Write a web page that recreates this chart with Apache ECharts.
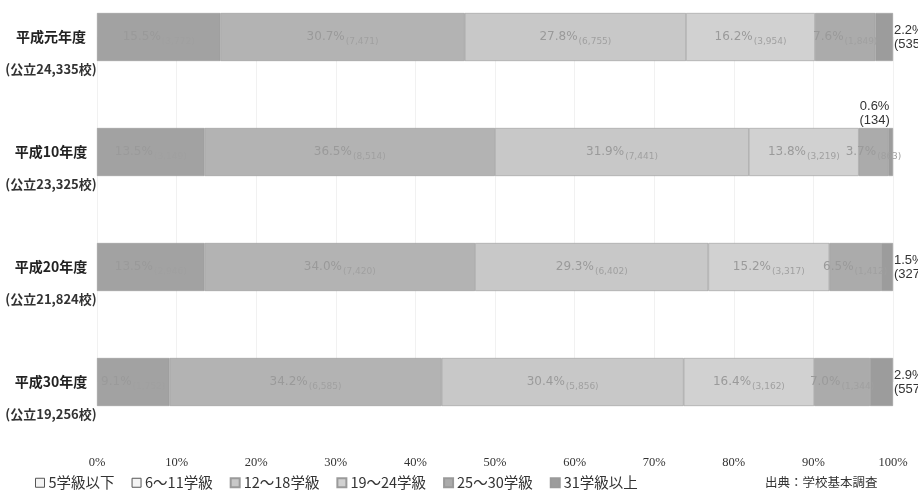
<!DOCTYPE html>
<html><head><meta charset="utf-8">
<script src="https://cdn.jsdelivr.net/npm/echarts@6/dist/echarts.min.js"></script>
<style>html,body{margin:0;padding:0;background:#fff}#c{width:918px;height:498px}</style>
</head><body><div id="c"></div>
<script>
const years = ['平成元年度', '平成10年度', '平成20年度', '平成30年度'];
const schools = ['24,335', '23,325', '21,824', '19,256'];
const legendNames = ['5学級以下', '6～11学級', '12～18学級', '19～24学級', '25～30学級', '31学級以上'];
// percentages per size class, rows = years
const pct5 = [15.5, 13.5, 13.5, 9.1];
const pct6_11 = [30.7, 36.5, 34.0, 34.2];
const pct12_18 = [27.8, 31.9, 29.3, 30.4];
const pct19_24 = [16.2, 13.8, 15.2, 16.4];
const pct25_30 = [7.6, 3.7, 6.5, 7.0];
const pct31 = [2.2, 0.6, 1.5, 2.9];
// school counts
const cnt5 = ['3,772', '3,149', '2,946', '1,752'];
const cnt6_11 = ['7,471', '8,514', '7,420', '6,585'];
const cnt12_18 = ['6,755', '7,441', '6,402', '5,856'];
const cnt19_24 = ['3,954', '3,219', '3,317', '3,162'];
const cnt25_30 = ['1,849', '863', '1,412', '1,344'];
const cnt31 = ['535', '134', '327', '557'];
const xTicks = ['0%', '10%', '20%', '30%', '40%', '50%', '60%', '70%', '80%', '90%', '100%'];

const pcts = [pct5, pct6_11, pct12_18, pct19_24, pct25_30, pct31];
const cnts = [cnt5, cnt6_11, cnt12_18, cnt19_24, cnt25_30, cnt31];
const colors = ['#a2a2a2', '#b3b3b3', '#c8c8c8', '#d1d1d1', '#ababab', '#9c9c9c'];

const chart = echarts.init(document.getElementById('c'));
const series = pcts.map((arr, si) => ({
  name: legendNames[si],
  type: 'bar',
  stack: 'all',
  barWidth: 48,
  itemStyle: { color: colors[si], borderColor: '#9a9a9a', borderWidth: 0.6 },
  data: arr.map((v, i) => {
    const d = { value: v };
    if (si === 5) {
      d.label = {
        show: true,
        position: i === 1 ? 'top' : 'right',
        offset: i === 1 ? [-16, 2] : [-2, 0],
        distance: 3,
        color: '#333',
        fontSize: 13,
        lineHeight: 14,
        align: i === 1 ? 'center' : 'left',
        formatter: () => v.toFixed(1) + '%\n(' + cnts[si][i] + ')'
      };
    }
    return d;
  }),
  label: si === 5 ? {} : {
    show: true,
    position: 'inside',
    formatter: p => '{p|' + p.value.toFixed(1) + '%}{c|(' + cnts[si][p.dataIndex] + ')}',
    rich: {
      p: { color: '#9a9a9a', fontSize: 12, fontFamily: 'DejaVu Sans' },
      c: { color: '#a0a0a0', fontSize: 9, padding: [10, 0, 0, 1], fontFamily: 'DejaVu Sans' }
    }
  }
}));

const legendData = legendNames.map((n, i) => i < 2
  ? { name: n, itemStyle: { color: '#f4f4f4', borderColor: '#555', borderWidth: 1 } }
  : { name: n });

chart.setOption({
  animation: false,
  backgroundColor: '#fff',
  grid: { left: 97, right: 25, top: 31, height: 351, containLabel: false },
  xAxis: {
    type: 'value', min: 0, max: 100, interval: 10,
    axisLine: { show: false }, axisTick: { show: false },
    splitLine: { show: true, lineStyle: { color: '#f1f1f1', width: 1 } },
    axisLabel: {
      margin: 74, color: '#333', fontSize: 12.5, fontFamily: 'Liberation Sans Narrow',
      formatter: v => xTicks[Math.round(v / 10)]
    }
  },
  yAxis: {
    type: 'category', inverse: true, boundaryGap: false, data: years,
    axisLine: { show: false }, axisTick: { show: false },
    axisLabel: {
      margin: 46, align: 'center',
      formatter: (v, i) => '{s| }\n{a|' + v + '}\n{b|(公立' + schools[i] + '校)}',
      rich: {
        s: { lineHeight: 32, fontSize: 10 },
        a: { lineHeight: 32, fontSize: 14, fontWeight: 'bold', color: '#222', fontFamily: 'Noto Sans CJK JP' },
        b: { lineHeight: 32, fontSize: 13, fontWeight: 'bold', color: '#333', fontFamily: 'Noto Sans CJK JP' }
      }
    }
  },
  legend: {
    bottom: 3, left: 30, itemWidth: 9, itemHeight: 9, itemGap: 17, icon: 'rect',
    textStyle: { fontSize: 14.5, color: '#333', fontFamily: 'Noto Sans CJK JP', padding: [0, 0, 0, -1] },
    data: legendData
  },
  title: {
    text: '出典：学校基本調査', left: 760, bottom: 4,
    textStyle: { fontSize: 12.5, fontWeight: 'normal', color: '#333', fontFamily: 'Noto Sans CJK JP' }
  },
  series: series
});
</script></body></html>
